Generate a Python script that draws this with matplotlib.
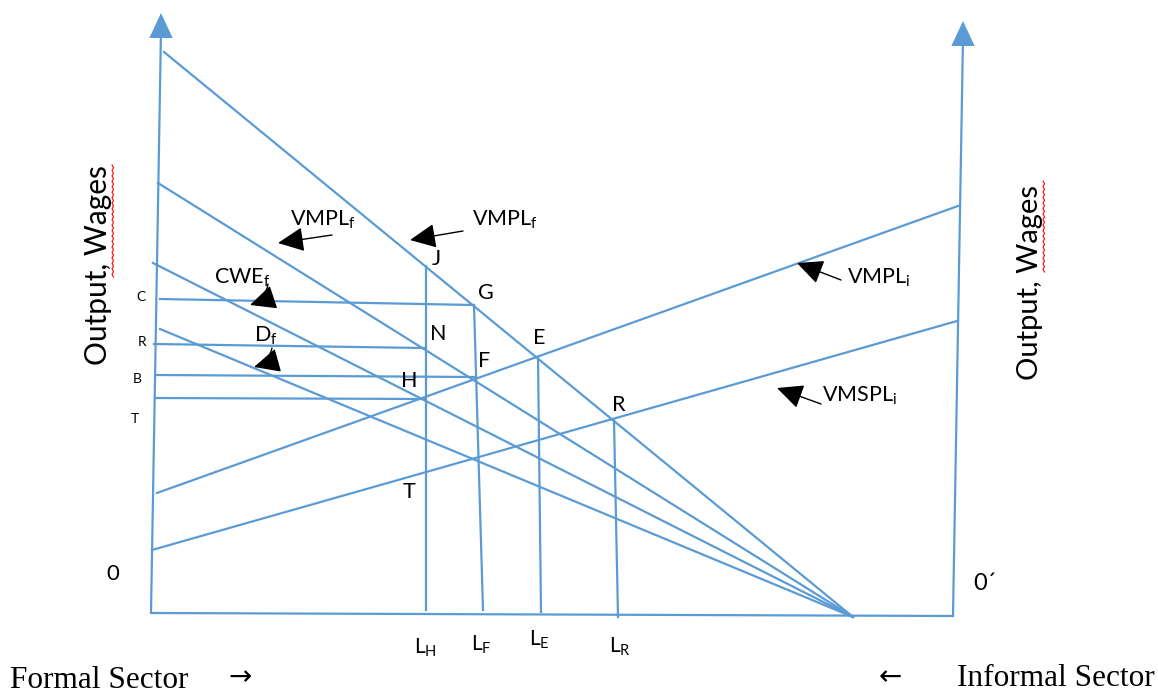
import numpy as np
import matplotlib
matplotlib.use("Agg")
import matplotlib.pyplot as plt

plt.rcParams['font.family'] = ['Lato', 'DejaVu Sans']
plt.rcParams['mathtext.fontset'] = 'custom'
plt.rcParams['mathtext.rm'] = 'Lato'

blue = '#5B9BD5'
lw = 1.6

# frame: the two vertical axes and the shared labour axis (pixel-like units)
left_ax_x = [151, 161]
left_ax_y = [613, 30]
right_ax_x = [953, 963]
right_ax_y = [616, 38]
base_x = [151, 953]
base_y = [613, 616]

# formal-sector downward curves all end at the same point on the base
down_x0 = [164, 158, 153, 160]
down_y0 = [52, 183, 263, 329]
pivot_x = 853
pivot_y = 617

# informal-sector upward curves (VMPL_i, VMSPL_i)
up_x = [[157, 958], [152, 957]]
up_y = [[493, 206], [550, 321]]

# wage levels read across from the left axis
wage_names = ['C', 'R', 'B', 'T']
wage_x0 = [160, 154, 157, 155]
wage_y0 = [299, 344, 375, 398]
wage_x1 = [474, 424, 474, 424]
wage_y1 = [305, 348, 377, 399]
wage_lab_x = [141, 142, 137, 135]
wage_lab_y = [297, 342, 379, 419]

# employment drop lines
drop_x0 = [426, 474, 538, 614]
drop_y0 = [266, 305, 357, 420]
drop_x1 = [426, 483, 541, 618]
drop_y1 = [610, 610, 612, 617]
drop_names = ['H', 'F', 'E', 'R']
drop_lab_x = [425, 481, 539, 620]
drop_lab_y = [648, 645, 640, 647]

# point labels
pt_names = ['J', 'G', 'N', 'E', 'F', 'H', 'T', 'R']
pt_x = [436, 486, 438, 539, 484, 409, 409, 619]
pt_y = [259, 293, 334, 338, 361, 381, 492, 405]

# curve names with pointer arrows: text pos, arrow tail, arrow tip
curve_txt = [r'VMPL$_{\rm f}$', r'VMPL$_{\rm f}$', r'CWE$_{\rm f}$', r'D$_{\rm f}$',
             r'VMPL$_{\rm i}$', r'VMSPL$_{\rm i}$']
curve_tx = [290, 472, 214, 254, 847, 822]
curve_ty = [220, 220, 278, 336, 278, 396]
tail_x = [332, 463, 268, 272, 841, 821]
tail_y = [235, 231, 284, 348, 280, 404]
tip_x = [278, 410, 250, 254, 797, 777]
tip_y = [243, 240, 305, 367, 263, 388]
curve_rad = [0, 0, -0.3, -0.3, 0, 0]

fig = plt.figure(figsize=(11.58, 6.93), dpi=100)
ax = fig.add_axes([0, 0, 1, 1])
ax.set_xlim(0, 1158)
ax.set_ylim(693, 0)
ax.axis('off')

# axes with arrow heads
for xs, ys in [(left_ax_x, left_ax_y), (right_ax_x, right_ax_y)]:
    ax.plot(xs, ys, color=blue, lw=lw, solid_capstyle='butt')
    ax.annotate('', xy=(xs[1], ys[1] - 17), xytext=(xs[1], ys[1]),
                arrowprops=dict(arrowstyle='-|>,head_length=0.9,head_width=0.42',
                                color=blue, lw=0, mutation_scale=20, shrinkA=0, shrinkB=0))
ax.plot(base_x, base_y, color=blue, lw=lw)

for x0, y0 in zip(down_x0, down_y0):
    ax.plot([x0, pivot_x], [y0, pivot_y], color=blue, lw=lw)
for xs, ys in zip(up_x, up_y):
    ax.plot(xs, ys, color=blue, lw=lw)
for i in range(len(wage_names)):
    ax.plot([wage_x0[i], wage_x1[i]], [wage_y0[i], wage_y1[i]], color=blue, lw=lw)
    ax.text(wage_lab_x[i], wage_lab_y[i], wage_names[i], fontsize=10,
            ha='center', va='center')
for i in range(len(drop_names)):
    ax.plot([drop_x0[i], drop_x1[i]], [drop_y0[i], drop_y1[i]], color=blue, lw=lw)
    ax.text(drop_lab_x[i], drop_lab_y[i], r'L$_{\rm %s}$' % drop_names[i], fontsize=15,
            ha='center', va='center')

for n, x, y in zip(pt_names, pt_x, pt_y):
    ax.text(x, y, n, fontsize=15.5, ha='center', va='center')

for i in range(len(curve_txt)):
    ax.text(curve_tx[i], curve_ty[i], curve_txt[i], fontsize=15.5, ha='left', va='center')
    ax.annotate('', xy=(tip_x[i], tip_y[i]), xytext=(tail_x[i], tail_y[i]),
                arrowprops=dict(arrowstyle='-|>,head_length=0.85,head_width=0.4',
                                color='black', lw=1.0, mutation_scale=19,
                                shrinkA=0, shrinkB=0,
                                connectionstyle='arc3,rad=%g' % curve_rad[i]))

ax.text(113, 574, '0', fontsize=16, ha='center', va='center')
ax.text(985, 584, '0\u00b4', fontsize=17, ha='center', va='center')

ax.text(98, 265, 'Output, Wages', fontsize=21.5, rotation=90, ha='center', va='center')
ax.text(1030, 282, 'Output, Wages', fontsize=21, rotation=90, ha='center', va='center')
# spell-check squiggles under "Wages"
sq_l = np.linspace(165, 277, 42)
ax.plot(112 + 1.5 * (np.arange(42) % 2), sq_l, color='red', lw=0.8)
sq_r = np.linspace(181, 272, 34)
ax.plot(1043 + 1.5 * (np.arange(34) % 2), sq_r, color='red', lw=0.8)

serif = ['Liberation Serif', 'DejaVu Serif']
ax.text(10, 680, 'Formal Sector', fontsize=22.5, family=serif, ha='left', va='center')
ax.text(240, 677, '\u2192', fontsize=20, family='DejaVu Sans', ha='center', va='center')
ax.text(890, 677, '\u2190', fontsize=20, family='DejaVu Sans', ha='center', va='center')
ax.text(1155, 679, 'Informal Sector', fontsize=22.5, family=serif, ha='right', va='center')

fig.savefig('out.png', dpi=100)
